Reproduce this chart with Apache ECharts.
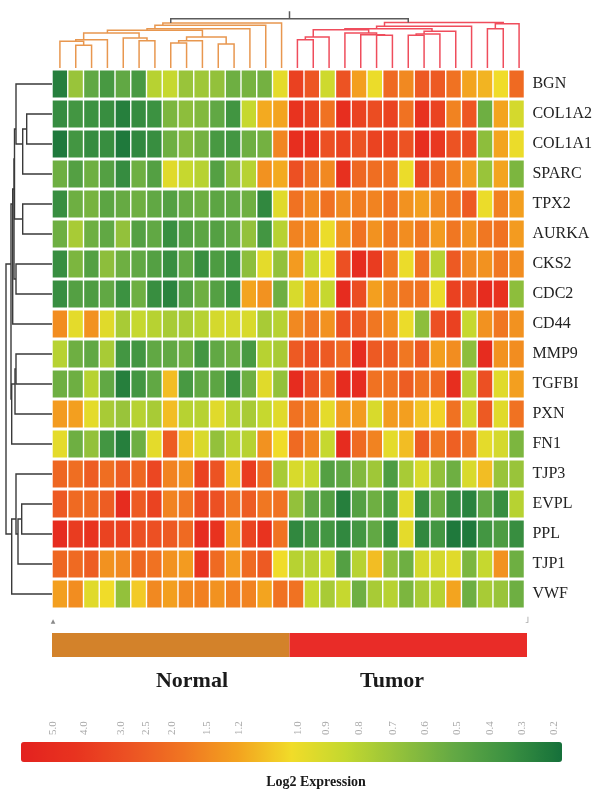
<!DOCTYPE html>
<html><head><meta charset="utf-8">
<script src="https://cdn.jsdelivr.net/npm/echarts@6/dist/echarts.min.js"></script>
<style>html,body{margin:0;padding:0;background:#fff}#c{width:595px;height:790px}</style>
</head><body><div id="c"></div>
<script>
// ---------------- data ----------------
const genes = ['BGN','COL1A2','COL1A1','SPARC','TPX2','AURKA','CKS2','CDC2','CD44','MMP9','TGFBI','PXN','FN1','TJP3','EVPL','PPL','TJP1','VWF'];
const normalSamples = ['N1','N2','N3','N4','N5','N6','N7','N8','N9','N10','N11','N12','N13','N14','N15'];
const tumorSamples = ['T1','T2','T3','T4','T5','T6','T7','T8','T9','T10','T11','T12','T13','T14','T15'];
// expression (legend units), one row per gene, one entry per sample
const normalValues = [
  [0.25,0.7,0.5,0.4,0.5,0.4,0.8,0.85,0.7,0.72,0.68,0.55,0.58,0.57,0.97],
  [0.32,0.38,0.35,0.33,0.25,0.32,0.35,0.6,0.66,0.62,0.5,0.37,0.85,1.18,1.2],
  [0.22,0.38,0.32,0.33,0.22,0.3,0.33,0.55,0.63,0.57,0.4,0.38,0.55,0.57,1.55],
  [0.55,0.45,0.55,0.45,0.32,0.55,0.45,0.95,0.85,0.8,0.45,0.66,0.8,1.4,1.18],
  [0.33,0.55,0.58,0.48,0.52,0.55,0.5,0.45,0.52,0.55,0.48,0.5,0.55,0.3,0.95],
  [0.55,0.75,0.55,0.5,0.68,0.45,0.5,0.33,0.45,0.48,0.45,0.5,0.68,0.38,0.8],
  [0.33,0.6,0.45,0.66,0.55,0.5,0.45,0.33,0.5,0.33,0.42,0.35,0.66,0.97,0.68],
  [0.33,0.45,0.42,0.5,0.35,0.55,0.33,0.27,0.45,0.55,0.45,0.35,1.2,1.4,0.55],
  [1.45,0.97,1.4,0.95,0.75,0.85,0.8,0.75,0.75,0.8,0.9,0.9,0.92,0.75,0.8],
  [0.8,0.55,0.5,0.75,0.38,0.38,0.5,0.5,0.55,0.38,0.5,0.55,0.4,0.8,0.75],
  [0.55,0.55,0.8,0.5,0.25,0.38,0.5,1.12,0.4,0.5,0.48,0.33,0.55,0.95,0.68],
  [1.3,1.25,0.97,0.75,0.7,0.8,0.75,1.12,0.8,0.8,0.95,0.8,0.75,0.85,0.95],
  [0.97,0.55,0.68,0.38,0.25,0.55,0.97,2.5,1.12,0.92,0.68,0.8,0.8,1.4,1.02],
  [2.2,2.0,2.5,2.0,2.5,2.2,3.3,1.6,1.4,3.6,2.8,1.12,3.8,2.0,0.75],
  [2.6,2.1,2.1,2.5,5.0,2.6,3.5,1.6,1.8,3.3,2.9,1.8,2.5,1.8,1.9],
  [5.0,3.8,4.3,3.5,3.6,2.9,2.9,2.6,2.1,5.0,4.4,1.3,3.5,4.3,1.9],
  [2.2,2.1,2.5,1.4,1.5,2.2,1.9,1.4,1.3,4.3,2.1,1.3,2.1,2.6,1.02],
  [1.25,1.45,0.95,1.02,0.68,1.08,1.5,1.25,1.5,1.65,1.4,1.65,1.6,1.2,1.9]
];
const tumorValues = [
  [3.6,2.7,0.88,2.8,1.25,1.0,2.1,1.5,2.6,2.6,1.9,1.2,1.15,1.02,2.1],
  [4.3,3.5,1.9,4.8,3.5,3.0,3.5,1.9,4.4,3.5,1.6,2.7,0.55,1.2,0.9],
  [4.8,4.4,2.9,3.5,2.8,3.5,3.5,2.8,4.8,4.0,2.8,3.0,0.66,1.2,1.0],
  [2.9,1.95,1.5,4.6,2.2,2.0,1.9,1.0,3.3,2.2,1.65,1.3,0.7,1.2,0.6],
  [1.9,1.5,1.9,1.5,1.7,1.6,1.9,1.4,1.25,1.5,1.8,2.6,1.0,1.65,1.25],
  [1.6,1.45,1.0,1.4,1.9,1.4,1.8,1.45,1.8,1.3,1.8,1.4,1.8,1.9,1.3],
  [1.3,0.85,1.0,2.9,5.0,3.8,1.8,1.0,1.9,0.8,2.6,1.5,1.4,1.8,1.45],
  [0.92,1.2,0.85,5.0,3.0,1.25,1.6,1.8,1.9,1.0,3.6,3.0,5.0,4.4,0.66],
  [1.5,1.8,1.4,2.9,2.6,1.8,1.45,1.0,0.66,2.9,3.6,0.85,1.4,1.8,1.4],
  [2.6,2.9,2.6,2.1,5.0,2.6,2.5,1.8,2.6,1.25,1.45,0.66,5.0,1.4,1.45],
  [5.0,2.9,1.9,5.0,5.0,1.9,1.9,2.5,1.9,2.1,4.8,0.8,2.9,0.95,1.25],
  [1.9,1.6,0.97,1.3,1.3,0.92,1.3,1.25,1.1,1.05,1.9,0.9,2.6,0.95,1.9],
  [2.1,1.6,0.85,5.0,2.1,1.6,0.97,1.12,2.6,1.8,2.4,1.8,0.97,0.9,0.6],
  [0.92,0.85,0.45,0.5,0.62,0.72,0.42,0.75,0.92,0.68,0.55,0.92,1.12,0.7,0.7],
  [0.68,0.5,0.45,0.25,0.45,0.55,0.4,0.97,0.33,0.55,0.33,0.27,0.5,0.33,0.8],
  [0.3,0.38,0.38,0.3,0.38,0.5,0.3,0.97,0.3,0.38,0.22,0.22,0.38,0.42,0.33],
  [0.8,0.8,0.85,0.45,0.8,1.12,0.68,0.55,0.9,0.9,0.95,0.6,0.85,1.4,0.55],
  [1.9,0.85,0.75,0.85,0.55,0.75,0.8,0.6,0.75,0.8,1.2,0.55,0.75,0.7,0.55]
];
const legendTickLabels = ['5.0','4.0','3.0','2.5','2.0','1.5','1.2','1.0','0.9','0.8','0.7','0.6','0.5','0.4','0.3','0.2'];
const legendTickValues = [5.0,4.0,3.0,2.5,2.0,1.5,1.2,1.0,0.9,0.8,0.7,0.6,0.5,0.4,0.3,0.2];
const groupNames = ['Normal','Tumor'];
// column clustering (R hclust style: -k = leaf k, +j = merge j) and merge heights
const colMerge = [[-2,-3],[-1,1],[2,-4],[-6,-7],[-5,4],[3,5],[-8,-9],[7,-10],[-11,-12],[8,9],[6,10],[11,-13],[12,-14],[13,-15],
  [-16,-17],[15,-18],[-21,-22],[-20,17],[-19,18],[16,19],[-23,-24],[21,-25],[22,-26],[20,23],[24,-27],[-28,-29],[26,-30],[25,27],[14,28]];
const colHeight = [22.7,26.7,28.3,27.3,30,35,25,27.3,24,31,37.7,39.3,42.7,45,
  28.3,31,32.7,33.3,35,38.3,32.7,34,36.7,39.3,41.7,39.3,44.3,45.5,49.3];
// row clustering
const rowMerge = [[-2,-3],[1,-4],[-1,2],[-5,-6],[3,4],[-7,-8],[5,6],[7,-9],[-10,-11],[9,-12],[10,-13],[8,11],
  [-15,-16],[13,-17],[-14,14],[15,-18],[12,16]];
const rowHeight = [25.3,29.3,36,29.3,37.5,36,38,39.3,36,37,40.3,41,30.3,34,36,40.3,46];

// ---------------- scale / style config ----------------
const scalePos = [0.059,0.116,0.185,0.231,0.279,0.344,0.403,0.512,0.564,0.625,0.688,0.747,0.806,0.867,0.926,0.985];
const gradColors = ['#e3221f','#e8331f','#ec5223','#f07522','#f3a21f','#f1dc29','#c3d82f','#93c13b','#63a944','#3b9141','#15703a'];
const groupColors = ['#d3822a','#e92c28'];
const SERIF = '"Liberation Serif","DejaVu Serif",serif';

function toT(v){
  const vs = legendTickValues;
  if (v >= vs[0]) return scalePos[0];
  if (v <= vs[vs.length-1]) return scalePos[vs.length-1];
  for (let i=0;i<vs.length-1;i++){
    if (v <= vs[i] && v >= vs[i+1]) {
      const f = (vs[i]-v)/(vs[i]-vs[i+1]);
      return scalePos[i] + f*(scalePos[i+1]-scalePos[i]);
    }
  }
  return 0.5;
}

const samples = normalSamples.concat(tumorSamples);
const cells = [];
genes.forEach((g,r)=>{
  const row = normalValues[r].concat(tumorValues[r]);
  row.forEach((v,c)=>cells.push([c, r, toT(v), v]));
});

function buildTree(merge, height){
  const pos=[], leaves=[], segs=[];
  function info(c){ return c<0 ? {p:-c-1,h:0,L:[-c-1]} : {p:pos[c-1],h:height[c-1],L:leaves[c-1]}; }
  merge.forEach((m,k)=>{
    const a=info(m[0]), b=info(m[1]);
    const L=a.L.concat(b.L); leaves[k]=L;
    pos[k]=L.reduce((s,x)=>s+x,0)/L.length;
    segs.push({L, pts:[[a.p,a.h],[a.p,height[k]],[b.p,height[k]],[b.p,b.h]]});
  });
  return {segs,pos,leaves};
}
const colTree = buildTree(colMerge, colHeight);
const nN = normalSamples.length;
const topLines = colTree.segs.map(s=>{
  let color = '#5b5b5b';
  if (s.L.every(i=>i<nN)) color = '#e8974f';
  else if (s.L.every(i=>i>=nN)) color = '#ef4d5c';
  return {coords:s.pts, lineStyle:{color}};
});
const rootP = colTree.pos[colTree.pos.length-1], rootH = colHeight[colHeight.length-1];
topLines.push({coords:[[rootP,rootH],[rootP,56.7]], lineStyle:{color:'#5b5b5b'}});

const rowTree = buildTree(rowMerge, rowHeight);
const leftLines = rowTree.segs.map(s=>({coords:s.pts.map(p=>[p[1],p[0]]), lineStyle:{color:'#3a3a3a'}}));

const groupData = groupNames.map((g,i)=> i===0 ? [0, nN-1, 0] : [nN, samples.length-1, 1]);

// ---------------- chart ----------------
const chart = echarts.init(document.getElementById('c'), null, {renderer:'canvas'});
chart.setOption({
  animation:false,
  backgroundColor:'#fff',
  grid:[
    {left:52, top:69, width:475, height:540},
    {left:52, top:8, width:475, height:60},
    {left:0, top:69, width:52, height:540},
    {left:52, top:633, width:475, height:24},
    {left:21, top:742, width:541, height:20}
  ],
  xAxis:[
    {gridIndex:0, type:'category', data:samples, show:false},
    {gridIndex:1, type:'value', min:-0.5, max:samples.length-0.5, show:false},
    {gridIndex:2, type:'value', min:0, max:52, inverse:true, show:false},
    {gridIndex:3, type:'category', data:samples, show:false},
    {gridIndex:4, type:'value', min:0, max:1, position:'top',
      axisLine:{show:false}, axisTick:{show:false}, splitLine:{show:false},
      axisLabel:{customValues:scalePos, rotate:90, margin:7, fontSize:11, color:'#a8a8a8', fontFamily:SERIF,
        formatter:(val)=>{ const i = scalePos.findIndex(p=>Math.abs(p-val)<1e-6); return i>=0 ? legendTickLabels[i] : ''; }}}
  ],
  yAxis:[
    {gridIndex:0, type:'category', data:genes, inverse:true, position:'right',
      axisLine:{show:false}, axisTick:{show:false},
      axisLabel:{margin:8, fontSize:16, color:'#222', fontFamily:SERIF}},
    {gridIndex:1, type:'value', min:0, max:60, show:false},
    {gridIndex:2, type:'value', min:-0.5, max:genes.length-0.5, inverse:true, show:false},
    {gridIndex:3, type:'value', min:0, max:1, show:false},
    {gridIndex:4, type:'value', min:0, max:1, show:false}
  ],
  visualMap:{
    type:'continuous', min:0, max:1, dimension:2, seriesIndex:0,
    orient:'horizontal', left:21, top:742, padding:0,
    itemWidth:20, itemHeight:541, calculable:false, hoverLink:false, text:null,
    inRange:{color:gradColors}
  },
  series:[
    {type:'custom', xAxisIndex:0, yAxisIndex:0, data:cells, encode:{x:0,y:1}, silent:true,
      renderItem:(params, api)=>{
        const c = api.coord([api.value(0), api.value(1)]);
        const s = api.size([1,1]);
        return {type:'rect', shape:{x:c[0]-s[0]/2+0.7, y:c[1]-s[1]/2+1.5, width:s[0]-1.4, height:s[1]-3},
          style:{fill:api.visual('color')}};
      }},
    {type:'lines', coordinateSystem:'cartesian2d', xAxisIndex:1, yAxisIndex:1, polyline:true, silent:true,
      lineStyle:{width:1.5, opacity:1}, data:topLines},
    {type:'lines', coordinateSystem:'cartesian2d', xAxisIndex:2, yAxisIndex:2, polyline:true, silent:true,
      lineStyle:{width:1.4, opacity:1}, data:leftLines},
    {type:'custom', xAxisIndex:3, yAxisIndex:3, data:groupData, encode:{x:[0,1]}, silent:true,
      renderItem:(params, api)=>{
        const a = api.coord([api.value(0), 1]);
        const b = api.coord([api.value(1), 0]);
        const bw = api.size([1,0])[0];
        return {type:'rect', shape:{x:a[0]-bw/2, y:a[1], width:b[0]-a[0]+bw, height:b[1]-a[1]},
          style:{fill:groupColors[api.value(2)]}};
      }},
    {type:'scatter', xAxisIndex:4, yAxisIndex:4, data:[], silent:true}
  ],
  graphic:[
    {type:'text', x:192, y:681, style:{text:groupNames[0], textAlign:'center', textVerticalAlign:'middle', font:'bold 22px '+SERIF, fill:'#1a1a1a'}},
    {type:'text', x:392, y:681, style:{text:groupNames[1], textAlign:'center', textVerticalAlign:'middle', font:'bold 22px '+SERIF, fill:'#1a1a1a'}},
    {type:'text', x:316, y:782, style:{text:'Log2 Expression', textAlign:'center', textVerticalAlign:'middle', font:'bold 14px '+SERIF, fill:'#1a1a1a'}},
    {type:'text', x:53, y:621, style:{text:'▲', textAlign:'center', textVerticalAlign:'middle', font:'6px "DejaVu Sans"', fill:'#8a8a8a'}},
    {type:'text', x:527, y:621, style:{text:'˩', textAlign:'center', textVerticalAlign:'middle', font:'9px "DejaVu Sans"', fill:'#8a8a8a'}}
  ]
});
</script></body></html>
